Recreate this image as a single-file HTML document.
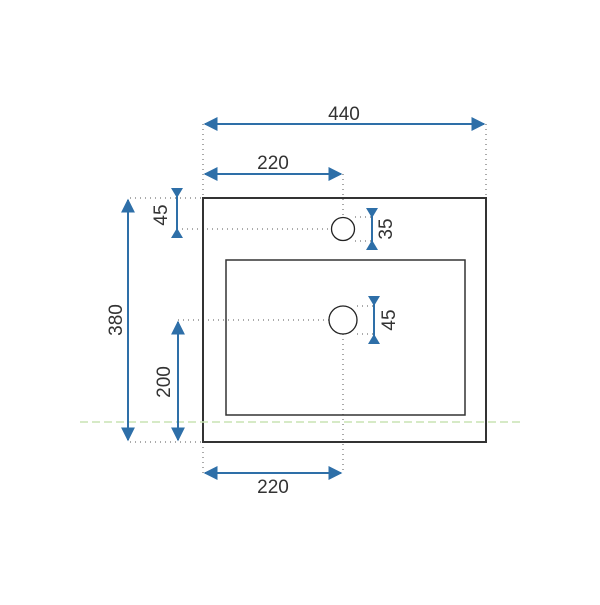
<!DOCTYPE html>
<html><head><style>body{margin:0;background:#fff}</style></head><body>
<svg width="600" height="600" xmlns="http://www.w3.org/2000/svg" font-family="Liberation Sans, sans-serif">
<defs>
<marker id="a" viewBox="0 0 10 10" refX="9" refY="5" markerWidth="7" markerHeight="7" orient="auto-start-reverse"><path d="M0,0L10,5L0,10z" fill="#2e6fa8"/></marker>
</defs>
<g stroke="#555" stroke-width="1" stroke-dasharray="1,4" fill="none">
<line x1="203" y1="124" x2="203" y2="198"/><line x1="486" y1="124" x2="486" y2="198"/>
<line x1="343" y1="174" x2="343" y2="217"/>
<line x1="130" y1="198" x2="203" y2="198"/>
<line x1="177" y1="229" x2="331" y2="229"/>
<line x1="355" y1="217" x2="372" y2="217"/><line x1="355" y1="241" x2="372" y2="241"/>
<line x1="178" y1="320" x2="329" y2="320"/>
<line x1="357" y1="306" x2="374" y2="306"/><line x1="357" y1="334" x2="374" y2="334"/>
<line x1="343" y1="334" x2="343" y2="473"/>
<line x1="130" y1="442" x2="203" y2="442"/>
<line x1="203" y1="442" x2="203" y2="473"/>
</g>
<rect x="203" y="198" width="283" height="244" fill="none" stroke="#333" stroke-width="2"/>
<rect x="226" y="260" width="239" height="155" fill="none" stroke="#333" stroke-width="1.5"/>
<circle cx="343" cy="229" r="11.5" fill="none" stroke="#222" stroke-width="1.3"/>
<circle cx="343" cy="320" r="14" fill="none" stroke="#222" stroke-width="1.3"/>
<line x1="80" y1="422" x2="520" y2="422" stroke="#c8e4b4" stroke-width="1.5" stroke-dasharray="8,4"/>
<g stroke="#2e6fa8" stroke-width="2" fill="none">
<line x1="205" y1="124" x2="484" y2="124" marker-start="url(#a)" marker-end="url(#a)"/>
<line x1="205" y1="174" x2="341" y2="174" marker-start="url(#a)" marker-end="url(#a)"/>
<line x1="205" y1="473" x2="341" y2="473" marker-start="url(#a)" marker-end="url(#a)"/>
<line x1="128" y1="200" x2="128" y2="440" marker-start="url(#a)" marker-end="url(#a)"/>
<line x1="178" y1="322" x2="178" y2="440" marker-start="url(#a)" marker-end="url(#a)"/>
<line x1="177" y1="190" x2="177" y2="236"/>
<line x1="372" y1="210" x2="372" y2="248"/>
<line x1="374" y1="298" x2="374" y2="342"/>
</g>
<g fill="#2e6fa8">
<path d="M171,188h12l-6,10z"/><path d="M171,238h12l-6,-10z"/>
<path d="M366,208h12l-6,10z"/><path d="M366,250h12l-6,-10z"/>
<path d="M368,296h12l-6,10z"/><path d="M368,344h12l-6,-10z"/>
</g>
<g fill="#333" font-size="19" text-anchor="middle">
<text x="344" y="120">440</text>
<text x="273" y="169">220</text>
<text x="273" y="493">220</text>
<text transform="translate(167,215) rotate(-90)">45</text>
<text transform="translate(392,229) rotate(-90)">35</text>
<text transform="translate(395,320) rotate(-90)">45</text>
<text transform="translate(122,320) rotate(-90)">380</text>
<text transform="translate(170,382) rotate(-90)">200</text>
</g>
</svg>
</body></html>
